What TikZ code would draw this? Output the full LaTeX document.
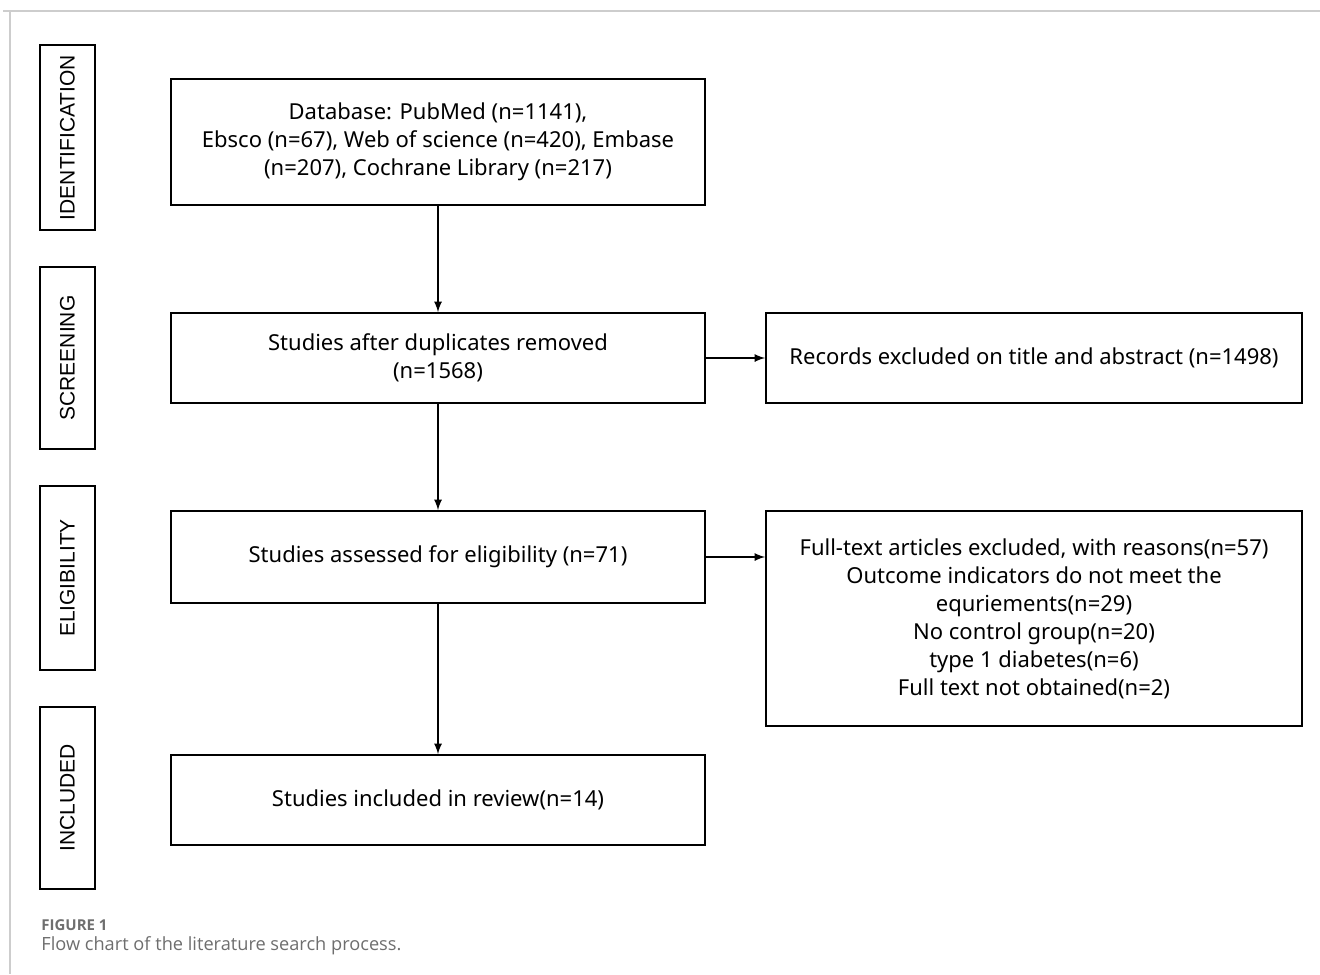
\documentclass[tikz,border=0pt]{standalone}
\usepackage{fontspec}
\setmainfont{Noto Sans}
\newfontfamily\capfont{Open Sans}
\newfontfamily\phasefont{Liberation Sans}
\usetikzlibrary{positioning}
\definecolor{framegray}{RGB}{205,205,205}
\definecolor{capgray}{RGB}{110,110,110}

\begin{document}
\begin{tikzpicture}[x=0.5pt, y=-0.5pt,
    phase/.style={draw, line width=1pt, rotate=90, inner sep=0pt, minimum height=27.5pt,
      font=\phasefont\fontsize{10.5}{12}\selectfont},
    stagebox/.style={draw, line width=0.9pt, inner sep=0pt, minimum width=267pt, align=center,
      font=\fontsize{11}{14}\selectfont},
    flow/.style={line width=0.8pt, -latex}]
  \useasboundingbox (0,0) rectangle (1320,974);
  % page frame
  \draw [framegray, line width=1pt] (3,11) -- (1320,11);
  \draw [framegray, line width=1pt] (10,11) -- (10,974);
  % phase labels
  \node [phase, minimum width=92.5pt] (ident) at (67.5,137.5) {IDENTIFICATION};
  \node [phase, minimum width=91pt] (screen) at (67.5,358) {SCREENING};
  \node [phase, minimum width=92pt] (elig) at (67.5,578) {ELIGIBILITY};
  \node [phase, minimum width=91pt] (included) at (67.5,798) {INCLUDED};
  % main column
  \node [stagebox, minimum height=63pt] (db) at (438,142)
    {Database: PubMed (n=1141),\\Ebsco (n=67), Web of science (n=420), Embase\\(n=207), Cochrane Library (n=217)};
  \node [stagebox, minimum height=45pt] (dedup) at (438,358)
    {Studies after duplicates removed\\(n=1568)};
  \node [stagebox, minimum height=46pt] (assess) at (438,557)
    {Studies assessed for eligibility (n=71)};
  \node [stagebox, minimum height=45pt] (incl) at (438,800)
    {Studies included in review(n=14)};
  % exclusions
  \node [stagebox, minimum width=268pt, minimum height=45pt] (excl1) at (1034,358)
    {Records excluded on title and abstract (n=1498)};
  \node [stagebox, minimum width=268pt, minimum height=107.5pt] (excl2) at (1034,618.5)
    {Full-text articles excluded, with reasons(n=57)\\Outcome indicators do not meet the\\equriements(n=29)\\No control group(n=20)\\type 1 diabetes(n=6)\\Full text not obtained(n=2)};
  % arrows
  \draw [flow] (db) -- (dedup);
  \draw [flow] (dedup) -- (assess);
  \draw [flow] (assess) -- (incl);
  \draw [flow] (dedup) -- (excl1);
  \draw [flow] (assess.east) -- (assess.east -| excl2.west);
  % caption
  \node [anchor=base west, inner sep=0pt, text=capgray, font=\capfont\bfseries\fontsize{7.5}{9}\selectfont]
    (capnum) at (41,930) {FIGURE 1};
  \node [anchor=base west, inner sep=0pt, text=capgray, font=\capfont\fontsize{9.1}{11}\selectfont]
    (captxt) at (41,950) {Flow chart of the literature search process.};
\end{tikzpicture}
\end{document}
